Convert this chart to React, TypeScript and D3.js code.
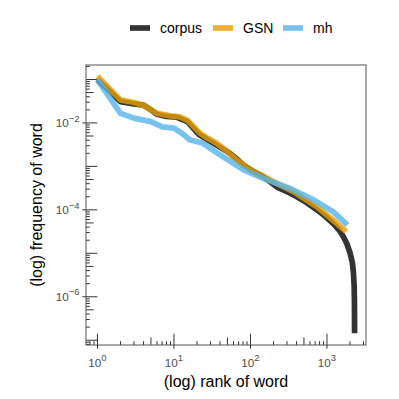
import React from "react";
import * as d3 from "d3";

const seriesNames = ["corpus", "GSN", "mh"];
const seriesColors = ["#000000", "#E69F00", "#56B4E9"];

const corpusRank = [1, 2, 3, 4, 5, 6, 8, 11, 15, 21, 26, 33, 42, 54, 66, 81, 110, 148, 220, 300, 404, 550, 740, 950, 1200, 1450, 1640, 1820, 2010, 2150, 2220, 2265, 2285, 2295];
const corpusFreq = [0.1, 0.0309, 0.0275, 0.0257, 0.02, 0.0158, 0.0141, 0.0135, 0.0107, 0.0055, 0.00437, 0.00339, 0.00263, 0.002, 0.00148, 0.00107, 7.6e-4, 5.75e-4, 3.39e-4, 2.63e-4, 2.0e-4, 1.45e-4, 1.0e-4, 7.1e-5, 4.9e-5, 3.4e-5, 2.4e-5, 1.66e-5, 1.0e-5, 6.0e-6, 3.5e-6, 1.8e-6, 7.9e-7, 1.45e-7];

const gsnRank = [1, 2, 3, 4, 6, 9, 12, 15, 22, 28, 36, 50, 66, 99, 180, 365, 740, 1340, 1780];
const gsnFreq = [0.118, 0.0339, 0.0295, 0.0251, 0.0166, 0.0145, 0.0138, 0.0115, 0.00575, 0.00437, 0.00339, 0.00219, 0.00141, 8.3e-4, 4.9e-4, 2.63e-4, 1.17e-4, 4.9e-5, 3.16e-5];

const mhRank = [1, 2, 3, 5, 7, 10, 13, 16, 24, 32, 44, 60, 81, 164, 330, 670, 1200, 1850];
const mhFreq = [0.098, 0.0166, 0.0129, 0.0107, 0.0081, 0.0076, 0.0056, 0.0041, 0.0034, 0.0024, 0.00166, 0.00117, 8.3e-4, 4.9e-4, 3.1e-4, 1.7e-4, 9.1e-5, 4.5e-5];

const xBreaks = [0, 1, 2, 3];
const yBreaks = [-2, -4, -6];

const FONT = "'Liberation Sans', Arial, Helvetica, sans-serif";

export default function App() {
  const L = 86, R = 366, T = 65, B = 345;
  const x = d3.scaleLog().domain([Math.pow(10, -0.15), Math.pow(10, 3.51)]).range([L, R]);
  const y = d3.scaleLog().domain([Math.pow(10, -0.667), Math.pow(10, -7.11)]).range([T, B]);

  const series = [
    corpusRank.map((r, i) => [r, corpusFreq[i]]),
    gsnRank.map((r, i) => [r, gsnFreq[i]]),
    mhRank.map((r, i) => [r, mhFreq[i]]),
  ];
  const line = d3.line<number[]>().x((d) => x(d[0])).y((d) => y(d[1]));

  const tickLen = (m: number) => (m === 1 ? 11.3 : m === 5 ? 7.6 : 3.8);
  const yTicks: { v: number; len: number }[] = [];
  for (let dd = -9; dd <= 0; dd++) {
    for (let m = 1; m <= 9; m++) {
      const v = m * Math.pow(10, dd);
      const py = y(v);
      if (py >= T - 0.01 && py <= B + 0.01) yTicks.push({ v, len: tickLen(m) });
    }
  }
  const xTicks: { v: number; len: number }[] = [];
  for (let dd = -1; dd <= 4; dd++) {
    for (let m = 1; m <= 9; m++) {
      const v = m * Math.pow(10, dd);
      const px = x(v);
      if (px >= L - 0.01 && px <= R + 0.01) xTicks.push({ v, len: tickLen(m) });
    }
  }

  const legendX = [130, 213, 283];

  return (
    <svg width={399} height={399} style={{ position: "absolute", left: 0, top: 0 }} fontFamily={FONT}>
      <rect x={0} y={0} width={399} height={399} fill="#fff" />
      {yTicks.map((t, i) => (
        <line key={"yt" + i} x1={L} x2={L + t.len} y1={y(t.v)} y2={y(t.v)} stroke="#333" strokeWidth={1} />
      ))}
      {xTicks.map((t, i) => (
        <line key={"xt" + i} x1={x(t.v)} x2={x(t.v)} y1={B} y2={B - t.len} stroke="#333" strokeWidth={1} />
      ))}
      {series.map((s, i) => (
        <path key={"s" + i} d={line(s) || ""} fill="none" stroke={seriesColors[i]} strokeOpacity={0.8}
          strokeWidth={5.7} strokeLinejoin="round" strokeLinecap="butt" />
      ))}
      <rect x={L} y={T} width={R - L} height={B - T} fill="none" stroke="#555" strokeWidth={1} />
      {yBreaks.map((e) => (
        <g key={"yb" + e}>
          <line x1={L - 3.7} x2={L} y1={y(Math.pow(10, e))} y2={y(Math.pow(10, e))} stroke="#333" />
          <text x={L - 6.5} y={y(Math.pow(10, e)) + 4.2} textAnchor="end" fontSize={11.7} fill="#4D4D4D">
            10<tspan dy={-5.5} fontSize={9.5}>{"\u2212" + Math.abs(e)}</tspan>
          </text>
        </g>
      ))}
      {xBreaks.map((e) => (
        <g key={"xb" + e}>
          <line x1={x(Math.pow(10, e))} x2={x(Math.pow(10, e))} y1={B} y2={B + 3.7} stroke="#333" />
          <text x={x(Math.pow(10, e))} y={366.5} textAnchor="middle" fontSize={11.7} fill="#4D4D4D">
            10<tspan dy={-5.5} fontSize={9.5}>{String(e)}</tspan>
          </text>
        </g>
      ))}
      <text x={(L + R) / 2} y={387} textAnchor="middle" fontSize={16} fill="#000">(log) rank of word</text>
      <text transform={`translate(42,${(T + B) / 2}) rotate(-90)`} textAnchor="middle" fontSize={16} fill="#000">(log) frequency of word</text>
      {seriesNames.map((n, i) => (
        <g key={"lg" + i}>
          <line x1={legendX[i]} x2={legendX[i] + 20} y1={28} y2={28} stroke={seriesColors[i]} strokeOpacity={0.8} strokeWidth={5.7} />
          <text x={legendX[i] + 30} y={33} fontSize={14} fill="#000">{n}</text>
        </g>
      ))}
    </svg>
  );
}
